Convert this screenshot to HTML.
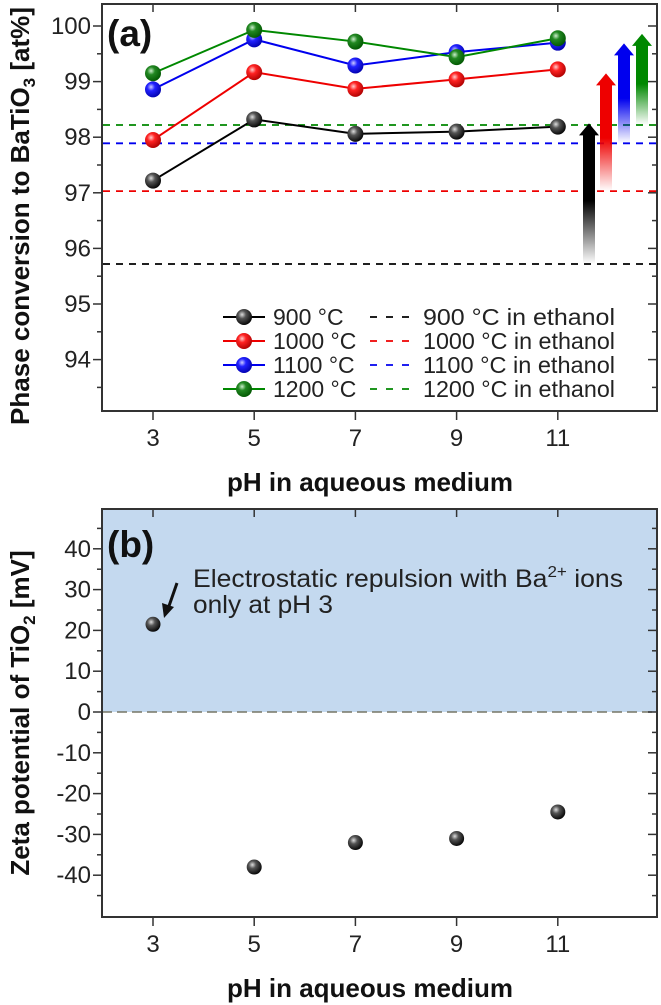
<!DOCTYPE html>
<html><head><meta charset="utf-8"><style>
html,body{margin:0;padding:0;background:#fff;}
svg{display:block;font-family:"Liberation Sans",Arial,sans-serif;}
</style></head><body>
<svg id="chart" width="661" height="1005" viewBox="0 0 661 1005" xmlns="http://www.w3.org/2000/svg">
<defs>
<radialGradient id="gk" cx="0.38" cy="0.35" r="0.7"><stop offset="0" stop-color="#ddd"/><stop offset="0.35" stop-color="#555"/><stop offset="1" stop-color="#000"/></radialGradient>
<radialGradient id="gr" cx="0.38" cy="0.35" r="0.7"><stop offset="0" stop-color="#fcc"/><stop offset="0.35" stop-color="#f22"/><stop offset="1" stop-color="#a00"/></radialGradient>
<radialGradient id="gb" cx="0.38" cy="0.35" r="0.7"><stop offset="0" stop-color="#ccf"/><stop offset="0.35" stop-color="#22f"/><stop offset="1" stop-color="#00a"/></radialGradient>
<radialGradient id="gg" cx="0.38" cy="0.35" r="0.7"><stop offset="0" stop-color="#cec"/><stop offset="0.35" stop-color="#282"/><stop offset="1" stop-color="#050"/></radialGradient>
</defs>
<g id="pa"></g>
<g id="pb"></g>
</svg>
<script>
// Panel (a) data
const phValues = [3, 5, 7, 9, 11];
const seriesNames = ["900 °C", "1000 °C", "1100 °C", "1200 °C"];
const conv900 = [97.22, 98.32, 98.06, 98.10, 98.19];
const conv1000 = [97.95, 99.17, 98.87, 99.04, 99.22];
const conv1100 = [98.86, 99.76, 99.29, 99.53, 99.70];
const conv1200 = [99.15, 99.93, 99.72, 99.44, 99.78];
const ethanolRef = [95.72, 97.03, 97.89, 98.22];
const aTicks = [94, 95, 96, 97, 98, 99, 100];
const xTicks = [3, 5, 7, 9, 11];
// Panel (b) data
const zeta = [21.5, -38, -32, -31, -24.5];
const bTicks = [-40, -30, -20, -10, 0, 10, 20, 30, 40];

const NS = "http://www.w3.org/2000/svg";
const colors = ["#000", "#e00", "#00e", "#080"];
const grads = ["url(#gk)", "url(#gr)", "url(#gb)", "url(#gg)"];
function mk(parent, tag, attrs, text) {
  const e = document.createElementNS(NS, tag);
  for (const k in attrs) e.setAttribute(k, attrs[k]);
  if (text !== undefined) e.textContent = text;
  parent.appendChild(e);
  return e;
}
const X0 = 102, X1 = 657;
const xs = v => 153 + (v - 3) * 50.6;
const ya = v => 26 + (100 - v) * 55.6;
const yb = v => 712 - v * 4.08;

function frame(g, top, bottom, yscale, ticks, minorStep, yMin, yMax, name) {
  xTicks.forEach(t => {
    const x = xs(t);
    let l = mk(g, "line", {x1: x, x2: x, y1: bottom, y2: bottom + 9, stroke: "#333", "stroke-width": 1.5});
    
    
    mk(g, "line", {x1: x, x2: x, y1: top, y2: top + 8, stroke: "#333", "stroke-width": 1.5});
  });
  for (let v = yMin; v <= yMax + 1e-9; v += minorStep) {
    const y = yscale(v);
    if (y < top + 2 || y > bottom - 2) continue;
    const major = ticks.some(t => Math.abs(t - v) < 1e-6);
    const len = major ? 9 : 5;
    mk(g, "line", {x1: X0 - len, x2: X0, y1: y, y2: y, stroke: "#333", "stroke-width": 1.5});
    mk(g, "line", {x1: X1 - len, x2: X1, y1: y, y2: y, stroke: "#333", "stroke-width": 1.5});
  }
  ticks.forEach(t => {
    const lb = mk(g, "text", {x: 91, y: yscale(t) + 8, "text-anchor": "end", "font-size": 24, fill: "#222"}, String(t));
    
    
  });
  const ty = bottom + 35;
  xTicks.forEach(t => {
    const lb = mk(g, "text", {x: xs(t), y: ty, "text-anchor": "middle", "font-size": 24, fill: "#222"}, String(t));
    
    
  });
  const r = mk(g, "rect", {x: X0, y: top, width: X1 - X0, height: bottom - top, fill: "none", stroke: "#333", "stroke-width": 2});
  
  
}

// ---------- Panel A ----------
const pa = document.getElementById("pa");
const aTop = 4, aBot = 411;
frame(pa, aTop, aBot, ya, aTicks, 0.5, 93.5, 100.5, "panel-a");
ethanolRef.forEach((v, i) => {
  const l = mk(pa, "line", {x1: X0 + 1, x2: X1 - 1, y1: ya(v), y2: ya(v), stroke: colors[i], "stroke-width": 1.8, "stroke-dasharray": "7,6"});
  
  
});
const arrowX = [589, 606, 624, 642];
const arrowTops = [conv900, conv1000, conv1100, conv1200].map(a => Math.max(...a));
const defs = document.querySelector("defs");
arrowX.forEach((ax, i) => {
  const yB = ya(ethanolRef[i]), yT = ya(arrowTops[i]) + 4;
  const lg = mk(defs, "linearGradient", {id: "ag" + i, x1: 0, y1: yB, x2: 0, y2: yT, gradientUnits: "userSpaceOnUse"});
  mk(lg, "stop", {offset: 0, "stop-color": colors[i], "stop-opacity": 0});
  mk(lg, "stop", {offset: 0.45, "stop-color": colors[i], "stop-opacity": 1});
  mk(lg, "stop", {offset: 1, "stop-color": colors[i], "stop-opacity": 1});
  const p = mk(pa, "path", {d: `M${ax-6},${yB} L${ax-6},${yT+12} L${ax-10},${yT+12} L${ax},${yT} L${ax+10},${yT+12} L${ax+6},${yT+12} L${ax+6},${yB} Z`, fill: `url(#ag${i})`});
  
  
});
[conv900, conv1000, conv1100, conv1200].forEach((arr, i) => {
  const pts = arr.map((v, j) => xs(phValues[j]) + "," + ya(v)).join(" ");
  const pl = mk(pa, "polyline", {points: pts, fill: "none", stroke: colors[i], "stroke-width": 2});
  
  
  arr.forEach((v, j) => {
    const c = mk(pa, "circle", {cx: xs(phValues[j]), cy: ya(v), r: 8, fill: grads[i]});
    
    
  });
});
const legRows = [317, 341, 365, 389];
seriesNames.forEach((n, i) => {
  const y = legRows[i];
  mk(pa, "line", {x1: 223, x2: 265, y1: y, y2: y, stroke: colors[i], "stroke-width": 2});
  mk(pa, "circle", {cx: 244, cy: y, r: 8, fill: grads[i]});
  const t = mk(pa, "text", {x: 273, y: y + 8, "font-size": 23, fill: "#222"}, n);
  
  
  mk(pa, "line", {x1: 370, x2: 414, y1: y, y2: y, stroke: colors[i], "stroke-width": 1.8, "stroke-dasharray": "7,9"});
  const t2 = mk(pa, "text", {x: 423, y: y + 8, "font-size": 23, fill: "#222", textLength: 192, lengthAdjust: "spacingAndGlyphs"}, n + " in ethanol");
  
  
});
let la = mk(pa, "text", {x: 107, y: 46, "font-size": 37, "font-weight": "bold", fill: "#111"}, "(a)");


let xta = mk(pa, "text", {x: 370, y: 491, "text-anchor": "middle", "font-size": 26, "font-weight": "bold", fill: "#111"}, "pH in aqueous medium");


let yta = mk(pa, "text", {transform: "translate(29,216) rotate(-90)", "text-anchor": "middle", "font-size": 26, "font-weight": "bold", fill: "#111"});


yta.appendChild(document.createTextNode("Phase conversion to BaTiO"));
mk(yta, "tspan", {"font-size": 17, dy: 6}, "3");
mk(yta, "tspan", {dy: -6}, " [at%]");

// ---------- Panel B ----------
const pb = document.getElementById("pb");
const bTop = 509, bBot = 917;
const shade = mk(pb, "rect", {x: X0, y: bTop, width: X1 - X0, height: yb(0) - bTop, fill: "#c4d9ef"});


mk(pb, "line", {x1: X0, x2: X1, y1: yb(0), y2: yb(0), stroke: "#776", "stroke-width": 1.5, "stroke-dasharray": "10,5"});
frame(pb, bTop, bBot, yb, bTicks, 5, -50, 50, "panel-b");
zeta.forEach((v, j) => {
  const c = mk(pb, "circle", {cx: xs(phValues[j]), cy: yb(v), r: 7.5, fill: "url(#gk)"});
  
  
});
let lb = mk(pb, "text", {x: 107, y: 557, "font-size": 37, "font-weight": "bold", fill: "#111"}, "(b)");


let ann = mk(pb, "text", {x: 193, y: 587, "font-size": 25, fill: "#222", textLength: 430, lengthAdjust: "spacingAndGlyphs"});


ann.appendChild(document.createTextNode("Electrostatic repulsion with Ba"));
mk(ann, "tspan", {"font-size": 16, dy: -10}, "2+");
mk(ann, "tspan", {dy: 10}, " ions");
mk(pb, "text", {x: 193, y: 613, "font-size": 25, fill: "#222", textLength: 140, lengthAdjust: "spacingAndGlyphs"}, "only at pH 3");
let aw = mk(pb, "line", {x1: 177, y1: 583, x2: 169, y2: 606, stroke: "#111", "stroke-width": 3});


mk(pb, "path", {d: "M162,603 L164,618 L174,607 Z", fill: "#111"});
let xtb = mk(pb, "text", {x: 370, y: 997, "text-anchor": "middle", "font-size": 26, "font-weight": "bold", fill: "#111"}, "pH in aqueous medium");


let ytb = mk(pb, "text", {transform: "translate(29,713) rotate(-90)", "text-anchor": "middle", "font-size": 26, "font-weight": "bold", fill: "#111"});


ytb.appendChild(document.createTextNode("Zeta  potential of TiO"));
mk(ytb, "tspan", {"font-size": 17, dy: 6}, "2");
mk(ytb, "tspan", {dy: -6}, " [mV]");
</script>
</body></html>
